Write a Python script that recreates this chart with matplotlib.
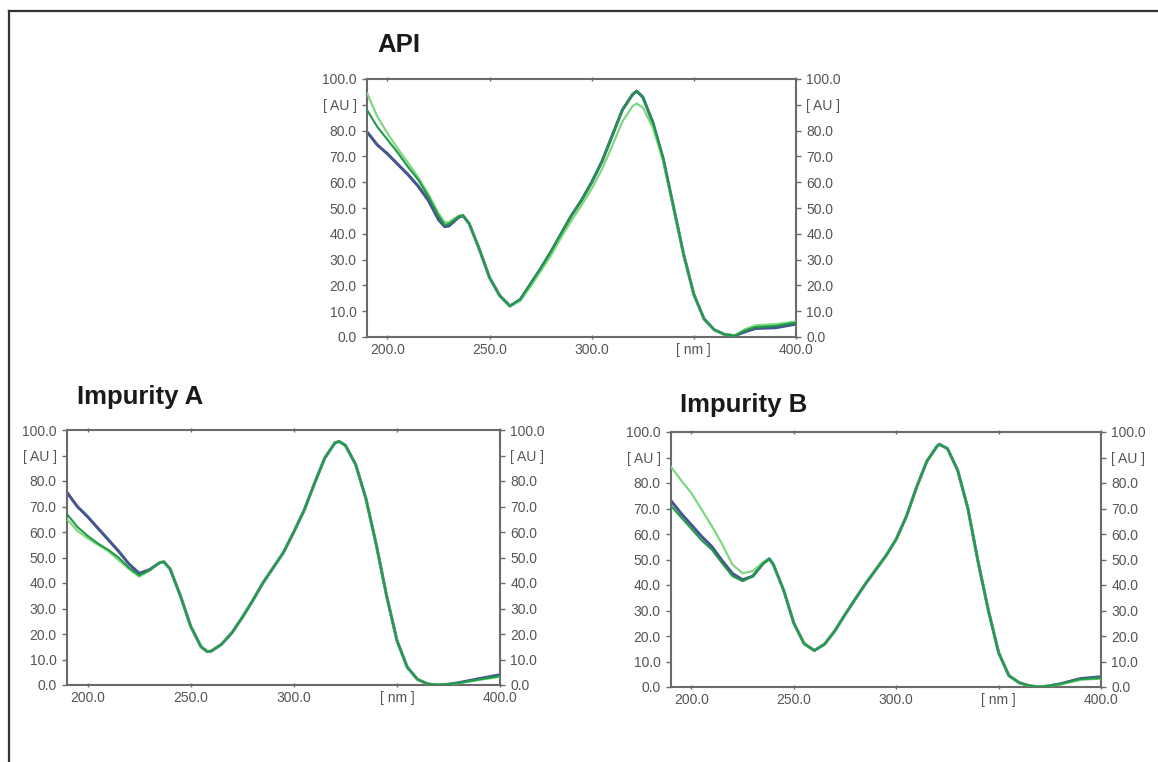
import matplotlib
matplotlib.use("Agg")
import matplotlib.pyplot as plt
from matplotlib.lines import Line2D

plt.rcParams['font.family'] = ['Liberation Sans', 'DejaVu Sans']

# ---------------- data ----------------
titles = ["API", "Impurity A", "Impurity B"]
x_ticks = [200, 250, 300, 350, 400]
x_tick_labels = ["200.0", "250.0", "300.0", "[ nm ]", "400.0"]
y_ticks = [0, 10, 20, 30, 40, 50, 60, 70, 80, 90, 100]
y_tick_labels = ["0.0", "10.0", "20.0", "30.0", "40.0", "50.0", "60.0", "70.0", "80.0", "[ AU ]", "100.0"]

api_wl = [190, 195, 200, 205, 210, 215, 220, 225, 228, 230, 235, 237, 240, 245, 250, 255, 260, 265, 270, 275,
          280, 285, 290, 295, 300, 305, 310, 315, 320, 322, 325, 330, 335, 340, 345, 350, 355, 360, 365, 370,
          375, 380, 390, 400]
api_blue = [79.5, 74.5, 71, 67, 63, 58.5, 53, 45.5, 42.8, 43, 46.5, 47, 44, 34, 23, 16, 12, 14.5, 20.5, 26.5,
            33, 40, 47, 53, 60, 68, 78, 88, 94, 95.3, 93, 83, 69, 50.5, 32, 16.5, 7, 2.8, 1, 0.5,
            2, 3.3, 3.6, 5]
api_green = [88, 81.5, 76.5, 71.5, 66, 61, 54.5, 47, 43.5, 43.8, 46.8, 47.2, 44, 34, 23, 16, 12, 14.5, 20.5, 26.5,
             33, 40, 47, 53, 60, 68, 78, 88, 94, 95.3, 93, 83, 69, 50.5, 32, 16.5, 7, 2.8, 1, 0.5,
             2.5, 3.8, 4.3, 5.6]
api_light = [94.5, 85.5, 79, 73, 67.6, 62, 55.5, 48, 44.5, 44.5, 47, 47.2, 44, 34, 23, 16, 12, 14, 19.5, 25.5,
             31.5, 38.5, 45, 51, 57.5, 65, 74, 83.5, 89.5, 90.5, 89, 81, 68, 50, 32, 16.5, 7, 2.8, 1, 0.6,
             3, 4.5, 5, 6]

impa_wl = [190, 195, 200, 205, 210, 215, 220, 225, 230, 235, 237, 240, 245, 250, 255, 258, 260, 265, 270, 275,
           280, 285, 290, 295, 300, 305, 310, 315, 320, 322, 325, 330, 335, 340, 345, 350, 355, 360, 365, 370,
           375, 380, 390, 400]
impa_blue = [75.5, 70, 66, 61.5, 57, 52.5, 47.5, 43.8, 45.2, 48, 48.3, 45.5, 35, 23, 15, 13.1, 13.3, 16, 20.5, 26.5,
             33, 40, 46, 52, 60, 68.5, 79, 89, 95, 95.5, 94, 86.5, 73, 55, 35, 17.5, 7, 2.2, 0.4, 0,
             0.3, 0.9, 2.5, 4]
impa_green = [67, 62, 58.5, 55.5, 53, 50, 46, 43, 45, 48, 48.3, 45.5, 35, 23, 15, 13.1, 13.3, 16, 20.5, 26.5,
              33, 40, 46, 52, 60, 68.5, 79, 89, 95, 95.5, 94, 86.5, 73, 55, 35, 17.5, 7, 2.2, 0.4, 0,
              0.3, 0.8, 2.2, 3.5]
impa_light = [65, 60.5, 57.5, 55, 52.5, 49, 45.5, 42.5, 44.8, 48, 48.3, 45.5, 35, 23, 15, 13.1, 13.3, 16, 20.5, 26.5,
              33, 40, 46, 52, 60, 68.5, 79, 89, 95, 95.5, 94, 86.5, 73, 55, 35, 17.5, 7, 2.2, 0.4, 0,
              0.3, 0.7, 2.0, 3.2]

impb_wl = [190, 195, 200, 205, 210, 215, 220, 225, 230, 235, 238, 240, 245, 250, 255, 260, 265, 270, 275, 280,
           285, 290, 295, 300, 305, 310, 315, 320, 321, 325, 330, 335, 340, 345, 350, 355, 360, 365, 370, 375,
           380, 390, 400]
impb_blue = [73, 68, 63.5, 59, 55, 49.5, 44.5, 42, 43.5, 48.5, 50.3, 48, 38, 25, 17, 14.3, 16.8, 22, 28.4, 34.5,
             40.5, 46, 51.5, 58, 67, 78.5, 88.6, 94.5, 95.2, 93.5, 85, 70, 49, 30, 13.5, 4.5, 1.7, 0.5, 0, 0.5,
             1.2, 3.3, 4]
impb_green = [71, 66.5, 62, 57.5, 53.8, 48.5, 43.5, 41.5, 43.5, 48.5, 50.3, 48, 38, 25, 17, 14.3, 16.8, 22, 28.4, 34.5,
              40.5, 46, 51.5, 58, 67, 78.5, 88.6, 94.5, 95.2, 93.5, 85, 70, 49, 30, 13.5, 4.5, 1.7, 0.5, 0, 0.5,
              1.2, 3.1, 3.5]
impb_light = [86.3, 81, 76, 69.5, 63, 56, 48, 44.6, 45.5, 49, 50.3, 48, 38, 25, 17, 14.3, 16.8, 22, 28.4, 34.5,
              40.5, 46, 51.5, 58, 67, 78.5, 88.6, 94.5, 95.2, 93.5, 85, 70, 49, 30, 13.5, 4.5, 1.7, 0.5, 0, 0.5,
              1.0, 2.8, 3.3]

panels = [
    (api_wl, api_blue, api_green, api_light),
    (impa_wl, impa_blue, impa_green, impa_light),
    (impb_wl, impb_blue, impb_green, impb_light),
]

# ---------------- layout ----------------
W, H = 1158, 762
fig = plt.figure(figsize=(W / 100, H / 100), dpi=100)
fig.patch.set_facecolor("white")

# axes boxes in pixel coords: left, top, right, bottom
boxes = [(367, 79, 796, 337), (67, 430, 500, 685), (671, 432, 1101, 687)]
title_pos = [(377, 52), (77, 404), (680, 412)]

# outer frame lines (top and left)
fig.add_artist(Line2D([9 / W, 1.0], [1 - 11 / H, 1 - 11 / H], color="#333333", lw=1.6, transform=fig.transFigure))
fig.add_artist(Line2D([9 / W, 9 / W], [1 - 11 / H, 0.0], color="#333333", lw=1.6, transform=fig.transFigure))

spine_col = "#6a6a6a"
lab_col = "#555555"

for (l, t, r, b), (wl, s_blue, s_green, s_light), title, (tx, ty) in zip(boxes, panels, titles, title_pos):
    ax = fig.add_axes([l / W, 1 - b / H, (r - l) / W, (b - t) / H])
    ax.plot(wl, s_blue, color="#44558f", lw=2.2, solid_joinstyle="round", solid_capstyle="round", zorder=2)
    ax.plot(wl, s_light, color="#7fd87f", lw=1.6, solid_joinstyle="round", zorder=3)
    ax.plot(wl, s_green, color="#1f9a45", lw=1.5, solid_joinstyle="round", zorder=4)
    ax.set_xlim(190, 400)
    ax.set_ylim(0, 100)
    ax.set_xticks(x_ticks)
    ax.set_xticklabels(x_tick_labels)
    ax.set_yticks(y_ticks)
    ax.set_yticklabels(y_tick_labels)
    for sp in ax.spines.values():
        sp.set_color(spine_col)
        sp.set_linewidth(1.5)
    ax.tick_params(axis="y", which="both", left=True, right=True, labelleft=True, labelright=True,
                   direction="out", length=3.5, width=1, color=spine_col, labelcolor=lab_col,
                   labelsize=10, pad=4)
    ax.tick_params(axis="x", which="both", bottom=True, top=True, labelbottom=True, labeltop=False,
                   direction="out", length=3, width=1, color=spine_col, labelcolor=lab_col,
                   labelsize=10, pad=3)
    ax.tick_params(axis="x", bottom=True, direction="inout")
    ax.set_facecolor("white")
    fig.text(tx / W, 1 - ty / H, title, fontsize=18.5, fontweight="bold", color="#1a1a1a",
             ha="left", va="baseline")

fig.savefig("out.png", dpi=100, facecolor="white")
